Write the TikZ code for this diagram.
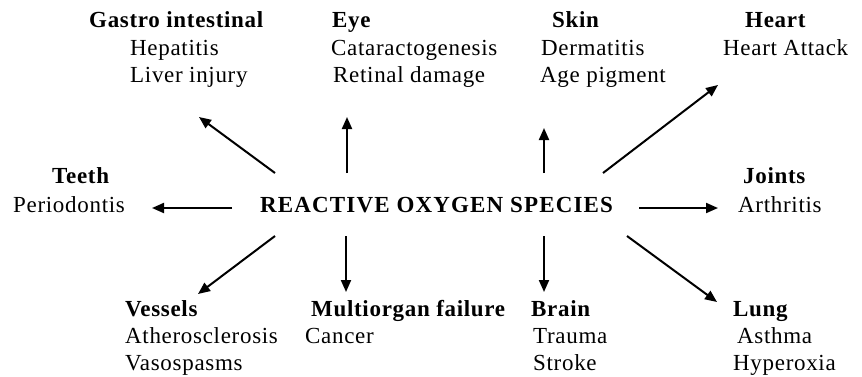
\documentclass[tikz,border=0pt]{standalone}
\usepackage{fontspec}
\setmainfont{Liberation Serif}[LetterSpace=3]
\newfontfamily\rosfont{Liberation Serif}[LetterSpace=5]
\usetikzlibrary{arrows.meta}
\begin{document}
\begin{tikzpicture}[x=1pt,y=-1pt,
  lbl/.style={anchor=base west, inner sep=0pt, font=\fontsize{23}{27}\selectfont},
  ttl/.style={anchor=base west, inner sep=0pt, font=\fontsize{23}{27}\selectfont\bfseries},
  arr/.style={line width=2pt, -{Triangle[length=12pt,width=10pt]}}]
\useasboundingbox (0,0) rectangle (862,376);
% Gastro intestinal
\node[ttl] (gastro) at (89,27) {Gastro intestinal};
\node[lbl] (hepatitis) at (130,55) {Hepatitis};
\node[lbl] (liver) at (130,82) {Liver injury};
% Eye
\node[ttl] (eye) at (332,27) {Eye};
\node[lbl] (catar) at (331,55) {Cataractogenesis};
\node[lbl] (retinal) at (333,82) {Retinal damage};
% Skin
\node[ttl] (skin) at (552,27) {Skin};
\node[lbl] (derm) at (541,55) {Dermatitis};
\node[lbl] (agepig) at (540,82) {Age pigment};
% Heart
\node[ttl] (heart) at (745,27) {Heart};
\node[lbl] (attack) at (723,55) {Heart Attack};
% Teeth
\node[ttl] (teeth) at (52,183) {Teeth};
\node[lbl] (perio) at (13,212) {Periodontis};
% ROS
\node[anchor=base west, inner sep=0pt, font=\fontsize{23}{27}\selectfont\rosfont\bfseries] (ros) at (260,212) {REACTIVE OXYGEN SPECIES};
% Joints
\node[ttl] (joints) at (743,183) {Joints};
\node[lbl] (arthr) at (738,212) {Arthritis};
% Vessels
\node[ttl] (vessels) at (125,316) {Vessels};
\node[lbl] (athero) at (125,343) {Atherosclerosis};
\node[lbl] (vaso) at (125,370) {Vasospasms};
% Multiorgan
\node[ttl] (multi) at (311,316) {Multiorgan failure};
\node[lbl] (cancer) at (305,343) {Cancer};
% Brain
\node[ttl] (brain) at (531,316) {Brain};
\node[lbl] (trauma) at (533,343) {Trauma};
\node[lbl] (stroke) at (533,370) {Stroke};
% Lung
\node[ttl] (lung) at (733,316) {Lung};
\node[lbl] (asthma) at (737,343) {Asthma};
\node[lbl] (hyper) at (733,370) {Hyperoxia};
% arrow end points
\coordinate (gT) at (275,173); \coordinate (gH) at (199,117);
\coordinate (eT) at (347,173); \coordinate (eH) at (347,117);
\coordinate (sT) at (544,173); \coordinate (sH) at (544,128);
\coordinate (hT) at (603,173); \coordinate (hH) at (718,85);
\coordinate (tT) at (232,208); \coordinate (tH) at (152,208);
\coordinate (jT) at (639,208); \coordinate (jH) at (718,208);
\coordinate (vT) at (275,236); \coordinate (vH) at (198,294);
\coordinate (mT) at (346,236); \coordinate (mH) at (346,292);
\coordinate (bT) at (544,236); \coordinate (bH) at (544,292);
\coordinate (lT) at (627,236); \coordinate (lH) at (717,302);
\draw[arr] (gT) -- (gH);
\draw[arr] (eT) -- (eH);
\draw[arr] (sT) -- (sH);
\draw[arr] (hT) -- (hH);
\draw[arr] (tT) -- (tH);
\draw[arr] (jT) -- (jH);
\draw[arr] (vT) -- (vH);
\draw[arr] (mT) -- (mH);
\draw[arr] (bT) -- (bH);
\draw[arr] (lT) -- (lH);
\end{tikzpicture}
\end{document}
